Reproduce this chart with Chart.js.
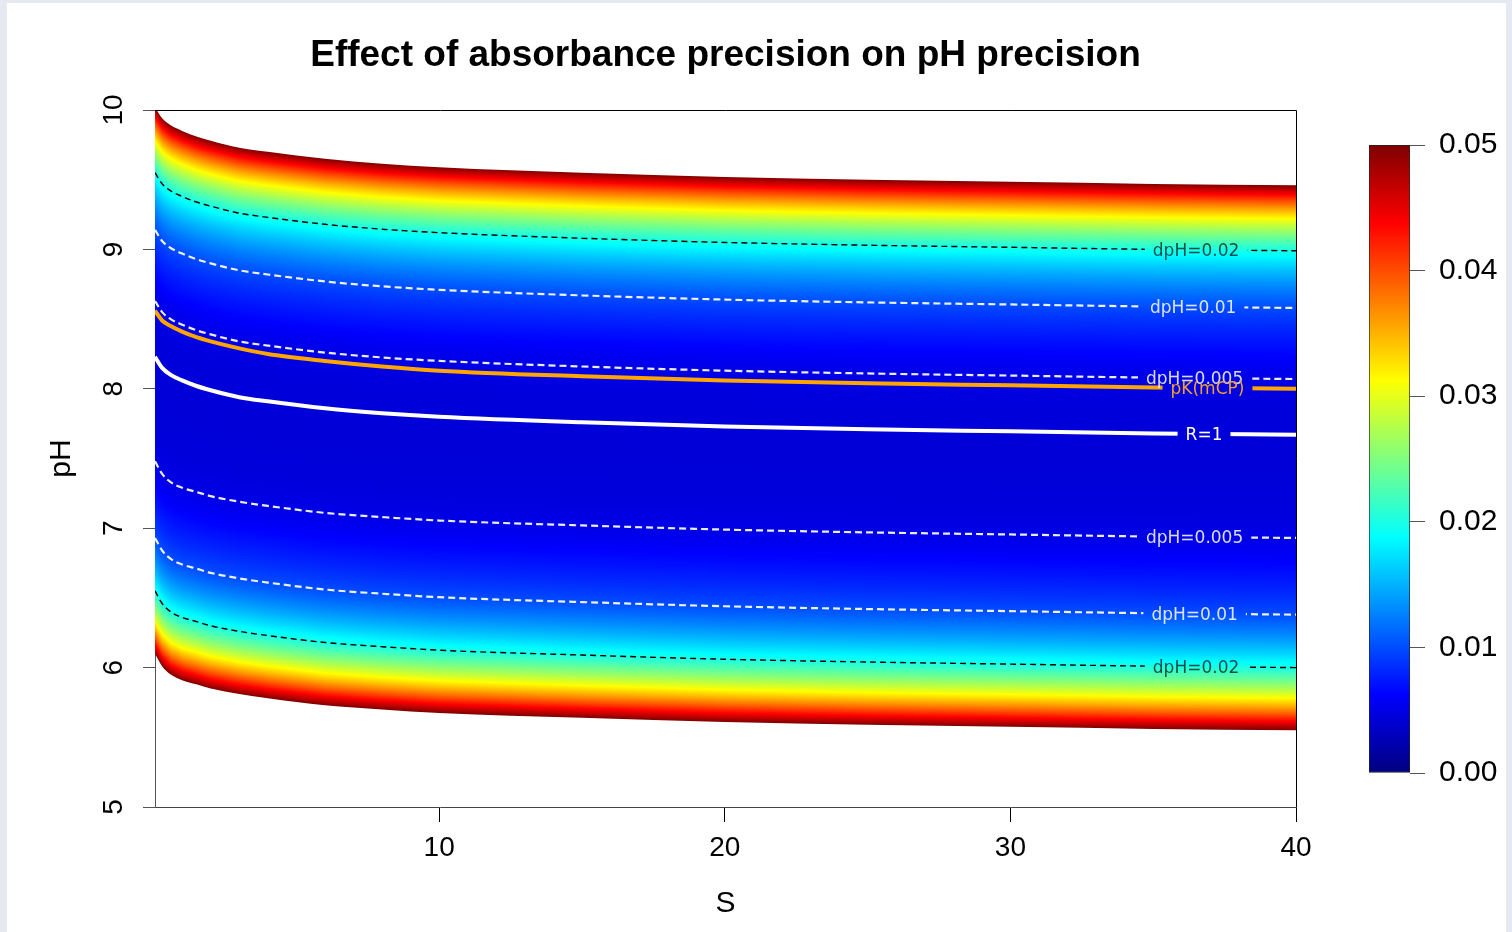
<!DOCTYPE html>
<html>
<head>
<meta charset="utf-8">
<title>Effect of absorbance precision on pH precision</title>
<script src="https://cdn.jsdelivr.net/npm/chart.js@4.4.0/dist/chart.umd.min.js"></script>
<style>
  html, body { margin: 0; padding: 0; background: #e6e9f1; }
  #wrap { position: relative; width: 1512px; height: 932px; }
  #main { position: absolute; left: 0; top: 0; }
  #bar { position: absolute; left: 1369px; top: 100px; }
</style>
</head>
<body>
<div id="wrap">
  <canvas id="main" width="1512" height="932"></canvas>
  <canvas id="bar" width="141" height="718"></canvas>
</div>
<script>
// salinity samples and the pH of every curve
const salinity    = [0.05, 0.3, 0.6, 1, 1.5, 2, 3, 4, 6, 8, 10, 15, 20, 25, 30, 35, 40];
const edgeUpper   = [10.02, 9.94, 9.89, 9.85, 9.81, 9.78, 9.73, 9.70, 9.65, 9.615, 9.59, 9.55, 9.52, 9.50, 9.485, 9.47, 9.46];
const dpH02Upper  = [9.55, 9.47, 9.42, 9.38, 9.34, 9.31, 9.26, 9.23, 9.18, 9.145, 9.12, 9.08, 9.05, 9.03, 9.015, 9.00, 8.99];
const dpH01Upper  = [9.14, 9.06, 9.01, 8.97, 8.93, 8.90, 8.85, 8.82, 8.77, 8.735, 8.71, 8.67, 8.64, 8.62, 8.605, 8.59, 8.58];
const dpH005Upper = [8.63, 8.55, 8.50, 8.46, 8.42, 8.39, 8.34, 8.31, 8.26, 8.225, 8.20, 8.16, 8.13, 8.11, 8.095, 8.08, 8.07];
const pKmCP       = [8.56, 8.49, 8.45, 8.41, 8.37, 8.34, 8.29, 8.25, 8.20, 8.16, 8.13, 8.09, 8.06, 8.04, 8.025, 8.01, 8.00];
const ratioOne    = [8.23, 8.15, 8.10, 8.06, 8.02, 7.99, 7.94, 7.91, 7.86, 7.825, 7.80, 7.76, 7.73, 7.71, 7.695, 7.68, 7.67];
const dpH005Lower = [7.48, 7.39, 7.33, 7.29, 7.26, 7.23, 7.19, 7.16, 7.11, 7.08, 7.055, 7.02, 6.99, 6.97, 6.955, 6.94, 6.93];
const dpH01Lower  = [6.93, 6.84, 6.78, 6.74, 6.71, 6.68, 6.64, 6.61, 6.56, 6.53, 6.505, 6.47, 6.44, 6.42, 6.405, 6.39, 6.38];
const dpH02Lower  = [6.55, 6.46, 6.40, 6.36, 6.33, 6.30, 6.26, 6.23, 6.18, 6.15, 6.125, 6.09, 6.06, 6.04, 6.025, 6.01, 6.00];
const edgeLower   = [6.10, 6.01, 5.95, 5.91, 5.88, 5.85, 5.81, 5.78, 5.73, 5.70, 5.675, 5.64, 5.61, 5.59, 5.575, 5.56, 5.55];

const contourLevels = [0.005, 0.01, 0.02];
const zMin = 0, zMax = 0.05;
const minDpH = 0.0043;   // darkest blue in the middle of the band
const xTicks = [10, 20, 30, 40];
const yTicks = [5, 6, 7, 8, 9, 10];
const colorbarTicks = [0, 0.01, 0.02, 0.03, 0.04, 0.05];

const FONT = "'Liberation Sans', Arial, sans-serif";
const jetStops = ['#00007F', '#0000FF', '#007FFF', '#00FFFF', '#7FFF7F', '#FFFF00', '#FF7F00', '#FF0000', '#7F0000'];
const jetRGB = jetStops.map(h => [1, 3, 5].map(i => parseInt(h.substr(i, 2), 16)));

function jet(v) {
  v = Math.min(1, Math.max(0, v));
  const p = v * 8, i = Math.min(7, Math.floor(p)), f = p - i;
  const a = jetRGB[i], b = jetRGB[i + 1];
  return [a[0] + (b[0] - a[0]) * f, a[1] + (b[1] - a[1]) * f, a[2] + (b[2] - a[2]) * f];
}

// pH of a curve at salinity s, between the read samples
function valueAt(arr, s) {
  if (s <= salinity[0]) return arr[0];
  for (let i = 1; i < salinity.length; i++) {
    if (s <= salinity[i]) {
      const t = (s - salinity[i - 1]) / (salinity[i] - salinity[i - 1]);
      return arr[i - 1] + t * (arr[i] - arr[i - 1]);
    }
  }
  return arr[arr.length - 1];
}

// colour field painted through the chart scales, used as the fill pattern of the band
let heatCache = null;
function heatPattern(context) {
  const chart = context.chart;
  const area = chart.chartArea;
  if (!area || !chart.scales.x || !chart.scales.y) return 'rgba(0,0,0,0)';
  const key = [area.left, area.top, area.right, area.bottom].join(',');
  if (heatCache && heatCache.key === key) return heatCache.pattern;

  const xs = chart.scales.x, ys = chart.scales.y;
  const off = document.createElement('canvas');
  off.width = chart.width;
  off.height = chart.height;
  const octx = off.getContext('2d');
  const x0 = Math.floor(area.left), x1 = Math.ceil(area.right);
  const y0 = Math.floor(area.top), y1 = Math.ceil(area.bottom);
  const w = x1 - x0, h = y1 - y0;
  const img = octx.createImageData(w, h);

  const curves = [edgeLower, dpH02Lower, dpH01Lower, dpH005Lower, null, dpH005Upper, dpH01Upper, dpH02Upper, edgeUpper];
  const levels = [zMax, ...contourLevels.slice().reverse(), minDpH, ...contourLevels, zMax];

  for (let px = x0; px < x1; px++) {
    const s = xs.getValueForPixel(px + 0.5);
    const pts = curves.map(c => c ? valueAt(c, s) : 0);
    pts[4] = (pts[3] + pts[5]) / 2;
    for (let py = y0; py < y1; py++) {
      const ph = ys.getValueForPixel(py + 0.5);
      let z;
      if (ph <= pts[0] || ph >= pts[8]) {
        z = zMax;
      } else {
        let k = 0;
        while (ph > pts[k + 1]) k++;
        const t = (ph - pts[k]) / (pts[k + 1] - pts[k]);
        if (k === 3) z = minDpH + (levels[3] - minDpH) * (1 - t) * (1 - t);
        else if (k === 4) z = minDpH + (levels[5] - minDpH) * t * t;
        else z = Math.exp(Math.log(levels[k]) + t * (Math.log(levels[k + 1]) - Math.log(levels[k])));
      }
      const c = jet((z - zMin) / (zMax - zMin));
      const o = ((py - y0) * w + (px - x0)) * 4;
      img.data[o] = c[0];
      img.data[o + 1] = c[1];
      img.data[o + 2] = c[2];
      img.data[o + 3] = 255;
    }
  }
  octx.putImageData(img, x0, y0);
  const pattern = chart.ctx.createPattern(off, 'no-repeat');
  heatCache = {key, pattern};
  return pattern;
}

const pts = arr => salinity.map((s, i) => ({x: s, y: arr[i]}));

// labels sit on the lines near the right edge, with a gap cut in the line
const curveLabels = {
  2: {text: 'dpH=0.02', data: dpH02Upper, at: 36.5, color: 'rgba(0,0,0,0.7)'},
  3: {text: 'dpH=0.01', data: dpH01Upper, at: 36.4, color: 'rgba(255,255,255,0.85)'},
  4: {text: 'dpH=0.005', data: dpH005Upper, at: 36.45, color: 'rgba(255,255,255,0.85)'},
  5: {text: 'dpH=0.005', data: dpH005Lower, at: 36.45, color: 'rgba(255,255,255,0.85)'},
  6: {text: 'dpH=0.01', data: dpH01Lower, at: 36.45, color: 'rgba(255,255,255,0.85)'},
  7: {text: 'dpH=0.02', data: dpH02Lower, at: 36.5, color: 'rgba(0,0,0,0.7)'},
  8: {text: 'pK(mCP)', data: pKmCP, at: 36.9, color: '#f0a030'},
  9: {text: 'R=1', data: ratioOne, at: 36.78, color: '#ffffff'}
};
const LABEL_FONT = "17px 'DejaVu Sans', sans-serif";

function gapRect(chart, lab) {
  const ctx = chart.ctx;
  ctx.font = LABEL_FONT;
  const half = ctx.measureText(lab.text).width / 2 + 8;
  const cx = chart.scales.x.getPixelForValue(lab.at);
  const cy = chart.scales.y.getPixelForValue(valueAt(lab.data, lab.at));
  return {cx, cy, half};
}

const decor = {
  id: 'decor',
  beforeDraw(chart) {
    const ctx = chart.ctx;
    ctx.save();
    ctx.fillStyle = '#e6e9f1';
    ctx.fillRect(0, 0, chart.width, chart.height);
    ctx.fillStyle = '#ffffff';
    ctx.fillRect(7, 3, 1499, chart.height - 3);
    ctx.restore();
  },
  beforeDatasetDraw(chart, args) {
    const lab = curveLabels[args.index];
    if (!lab) return;
    const ctx = chart.ctx;
    const a = chart.chartArea;
    const g = gapRect(chart, lab);
    ctx.save();
    ctx.beginPath();
    ctx.rect(a.left - 5, a.top - 5, a.right - a.left + 10, a.bottom - a.top + 10);
    ctx.rect(g.cx - g.half, g.cy - 12, g.half * 2, 24);
    ctx.clip('evenodd');
  },
  afterDatasetDraw(chart, args) {
    if (curveLabels[args.index]) chart.ctx.restore();
  },
  afterDatasetsDraw(chart) {
    const ctx = chart.ctx;
    ctx.save();
    ctx.font = LABEL_FONT;
    ctx.textAlign = 'center';
    ctx.textBaseline = 'middle';
    Object.values(curveLabels).forEach(lab => {
      const g = gapRect(chart, lab);
      ctx.fillStyle = lab.color;
      ctx.fillText(lab.text, g.cx, g.cy + 2);
    });
    ctx.restore();
  },
  afterDraw(chart) {
    const ctx = chart.ctx;
    const a = chart.chartArea;
    const ys = chart.scales.y;
    ctx.save();
    // box top and right
    ctx.strokeStyle = '#000';
    ctx.lineWidth = 1;
    ctx.beginPath();
    ctx.moveTo(a.left, Math.round(a.top) + 0.5);
    ctx.lineTo(Math.round(a.right) + 0.5, Math.round(a.top) + 0.5);
    ctx.lineTo(Math.round(a.right) + 0.5, a.bottom);
    ctx.stroke();
    // y tick labels, parallel to the axis
    ctx.fillStyle = '#000';
    ctx.font = '28px ' + FONT;
    ctx.textAlign = 'center';
    ctx.textBaseline = 'middle';
    yTicks.forEach(v => {
      ctx.save();
      ctx.translate(114, ys.getPixelForValue(v));
      ctx.rotate(-Math.PI / 2);
      ctx.fillText(String(v), 0, 0);
      ctx.restore();
    });
    // axis titles
    ctx.font = '30px ' + FONT;
    ctx.fillText('S', (a.left + a.right) / 2, 904);
    ctx.save();
    ctx.translate(62, (a.top + a.bottom) / 2);
    ctx.rotate(-Math.PI / 2);
    ctx.fillText('pH', 0, 0);
    ctx.restore();
    // main title
    ctx.font = 'bold 37px ' + FONT;
    ctx.textBaseline = 'alphabetic';
    ctx.fillText('Effect of absorbance precision on pH precision', (a.left + a.right) / 2, 66);
    ctx.restore();
  }
};

const lineBase = {pointRadius: 0, cubicInterpolationMode: 'monotone', fill: false};
const whiteDash = {borderColor: 'rgba(255,255,255,0.92)', borderWidth: 2.2, borderDash: [7, 4], order: 2};
const blackDash = {borderColor: '#000', borderWidth: 1.4, borderDash: [6, 4], order: 2};

const mainChart = new Chart(document.getElementById('main'), {
  type: 'line',
  data: {
    datasets: [
      {...lineBase, data: pts(edgeUpper), fill: '+1', backgroundColor: heatPattern,
        borderWidth: 0, borderColor: 'rgba(0,0,0,0)', order: 5},
      {...lineBase, data: pts(edgeLower), borderWidth: 0, borderColor: 'rgba(0,0,0,0)', order: 5},
      {...lineBase, ...blackDash, data: pts(dpH02Upper)},
      {...lineBase, ...whiteDash, data: pts(dpH01Upper)},
      {...lineBase, ...whiteDash, data: pts(dpH005Upper)},
      {...lineBase, ...whiteDash, data: pts(dpH005Lower)},
      {...lineBase, ...whiteDash, data: pts(dpH01Lower)},
      {...lineBase, ...blackDash, data: pts(dpH02Lower)},
      {...lineBase, data: pts(pKmCP), borderColor: '#FFA500', borderWidth: 4, order: 1},
      {...lineBase, data: pts(ratioOne), borderColor: '#ffffff', borderWidth: 4, order: 1}
    ]
  },
  options: {
    responsive: false,
    animation: false,
    events: [],
    layout: {padding: {left: 135, right: 216, top: 110, bottom: 60}},
    plugins: {
      legend: {display: false},
      tooltip: {enabled: false},
      filler: {drawTime: 'beforeDatasetsDraw'}
    },
    scales: {
      x: {
        type: 'linear',
        min: 0.05,
        max: 40,
        afterBuildTicks: s => { s.ticks = xTicks.map(v => ({value: v})); },
        afterFit: s => { s.height = 65; },
        ticks: {font: {size: 28, family: FONT}, color: '#000', padding: 9, maxRotation: 0},
        grid: {drawOnChartArea: false, drawTicks: true, tickLength: 15, color: '#000'},
        border: {display: true, color: '#444', width: 1}
      },
      y: {
        type: 'linear',
        min: 5,
        max: 10,
        afterBuildTicks: s => { s.ticks = yTicks.map(v => ({value: v})); },
        afterFit: s => { s.width = 20; },
        ticks: {display: false},
        grid: {drawOnChartArea: false, drawTicks: true, tickLength: 12, color: '#555'},
        border: {display: true, color: '#555', width: 1}
      }
    }
  },
  plugins: [decor]
});
mainChart.update();

// colour key
new Chart(document.getElementById('bar'), {
  type: 'bar',
  data: {
    labels: [''],
    datasets: [{
      data: [[zMin, zMax]],
      backgroundColor: ctx => {
        const a = ctx.chart.chartArea;
        if (!a) return '#00007F';
        const g = ctx.chart.ctx.createLinearGradient(0, a.bottom, 0, a.top);
        jetStops.forEach((c, i) => g.addColorStop(i / (jetStops.length - 1), c));
        return g;
      },
      borderColor: '#222',
      borderWidth: 1,
      borderSkipped: false,
      barPercentage: 1,
      categoryPercentage: 1
    }]
  },
  options: {
    responsive: false,
    animation: false,
    events: [],
    layout: {padding: {left: 0, right: 0, top: 45, bottom: 45}},
    plugins: {legend: {display: false}, tooltip: {enabled: false}},
    scales: {
      x: {display: false},
      y: {
        position: 'right',
        min: zMin,
        max: zMax,
        afterBuildTicks: s => { s.ticks = colorbarTicks.map(v => ({value: v})); },
        afterFit: s => { s.width = 100; },
        ticks: {callback: v => v.toFixed(2), font: {size: 30, family: FONT}, color: '#000', padding: 14},
        grid: {drawOnChartArea: false, drawTicks: true, tickLength: 15, color: '#555'},
        border: {display: false}
      }
    }
  }
});
</script>
</body>
</html>
